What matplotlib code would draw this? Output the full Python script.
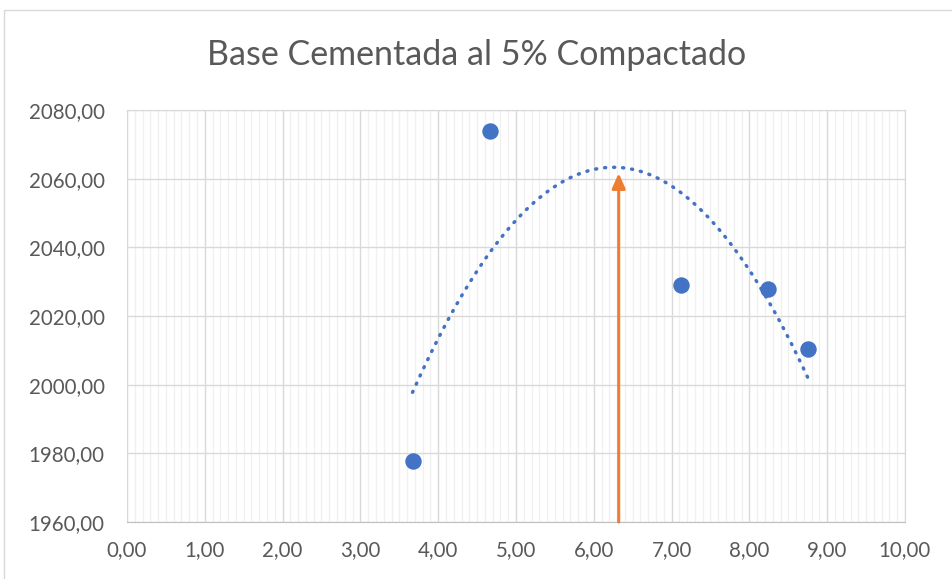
import numpy as np
import matplotlib.pyplot as plt
from matplotlib.patches import Rectangle
from matplotlib.ticker import MultipleLocator, FuncFormatter

plt.rcParams['font.family'] = ['Lato', 'DejaVu Sans']

humedad = [3.67, 4.67, 7.12, 8.24, 8.75]
densidad = [1977.8, 2073.9, 2029.0, 2027.9, 2010.4]
humedad_optima = 6.32
densidad_max = 2061.6

fig = plt.figure(figsize=(9.53, 5.79), dpi=100)
ax = fig.add_axes([127 / 953, 1 - 522 / 579, (905 - 127) / 953, (522 - 110) / 579])

# marco exterior del grafico
fig.patches.append(Rectangle((4 / 953, -0.01), 1.0, 1 - 10 / 579 + 0.01,
                             transform=fig.transFigure, fill=False,
                             edgecolor='#d9d9d9', linewidth=1.0))

ax.set_xlim(0, 10)
ax.set_ylim(1960, 2080)
ax.xaxis.set_major_locator(MultipleLocator(1))
ax.xaxis.set_minor_locator(MultipleLocator(0.1))
ax.yaxis.set_major_locator(MultipleLocator(20))
coma = FuncFormatter(lambda v, p: f"{v:.2f}".replace('.', ','))
ax.xaxis.set_major_formatter(coma)
ax.yaxis.set_major_formatter(coma)

ax.grid(which='major', color='#d9d9d9', linewidth=1.0)
ax.grid(which='minor', axis='x', color='#f0f0f0', linewidth=1.0)
ax.set_axisbelow(True)
for s in ax.spines.values():
    s.set_color('#d9d9d9')
ax.spines['bottom'].set_color('#bfbfbf')
ax.tick_params(which='both', length=0, labelsize=14.8, colors='#595959')
ax.tick_params(axis='x', pad=13)
ax.tick_params(axis='y', pad=16)

# linea de tendencia polinomica de grado 2
coef = np.polyfit(humedad, densidad, 2)
xs = np.linspace(min(humedad), max(humedad), 200)
ax.plot(xs, np.polyval(coef, xs), color='#4472c4', linewidth=2.5,
        linestyle=(0, (0.3, 2.3)), dash_capstyle='round', zorder=3)

ax.scatter(humedad, densidad, s=140, color='#4472c4', zorder=4, linewidths=0)

ax.annotate('', xy=(humedad_optima, densidad_max), xytext=(humedad_optima, 1960),
            arrowprops=dict(arrowstyle='-|>,head_length=0.9,head_width=0.4',
                            color='#ed7d31', linewidth=2.2, shrinkA=0, shrinkB=0),
            zorder=5)

fig.text(0.5, 1 - 55 / 579, 'Base Cementada al 5% Compactado', ha='center', va='center',
         fontsize=24.5, color='#595959')

fig.savefig('out.png', dpi=100)
